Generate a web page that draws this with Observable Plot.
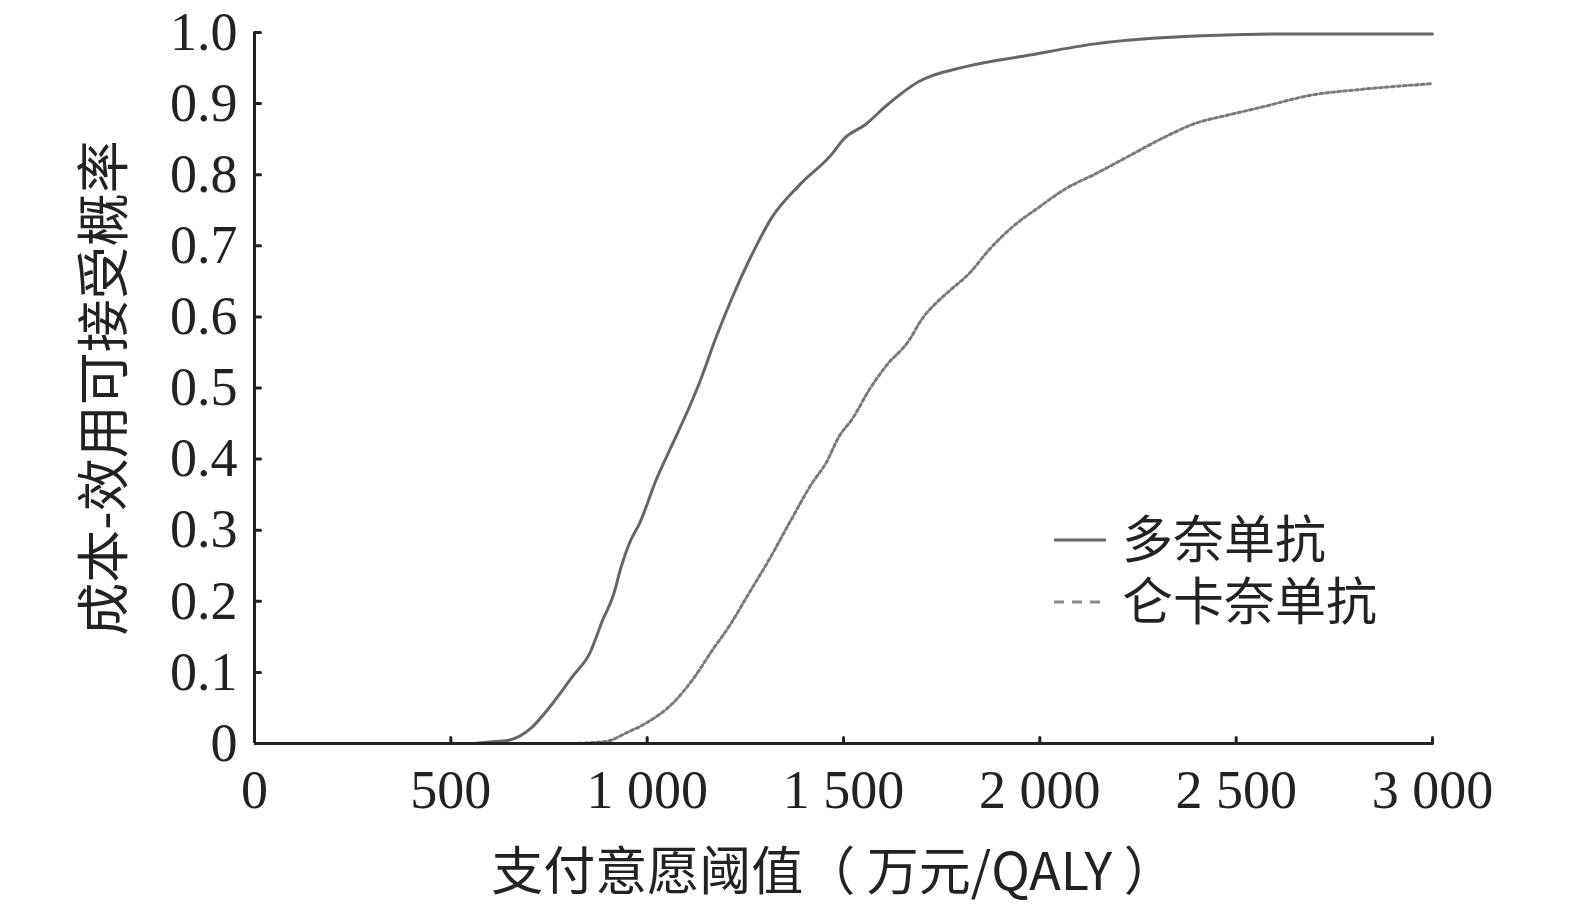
<!DOCTYPE html>
<html><head><meta charset="utf-8">
<script src="https://cdn.jsdelivr.net/npm/d3@7"></script>
<script src="https://cdn.jsdelivr.net/npm/@observablehq/plot@0.6"></script>
<style>
body{margin:0;background:#fff;}
#wrap{position:relative;width:1575px;height:911px;}
#legend{position:absolute;left:0;top:0;pointer-events:none;}
</style></head><body><div id="wrap"></div>
<script>
const xTicks = [0, 500, 1000, 1500, 2000, 2500, 3000];
const yTicks = [0, 0.1, 0.2, 0.3, 0.4, 0.5, 0.6, 0.7, 0.8, 0.9, 1.0];
const yTickLabels = ["0", "0.1", "0.2", "0.3", "0.4", "0.5", "0.6", "0.7", "0.8", "0.9", "1.0"];
const xTitle = "支付意愿阈值（ 万元/QALY ）";
const yTitle = "成本-效用可接受概率";
const seriesNames = ["多奈单抗", "仑卡奈单抗"];

// 多奈单抗
const donX = [560, 600, 650, 705, 760, 811, 854, 887, 913, 934, 955, 981, 1023, 1066, 1108, 1133, 1176, 1218, 1260, 1319, 1387, 1472, 1500, 1557, 1607, 1692, 1811, 1971, 2141, 2395, 2649, 3000];
const donY = [0, 0.002, 0.005, 0.022, 0.057, 0.095, 0.127, 0.174, 0.207, 0.249, 0.282, 0.31, 0.371, 0.423, 0.474, 0.507, 0.572, 0.629, 0.68, 0.741, 0.785, 0.83, 0.85, 0.871, 0.896, 0.931, 0.952, 0.968, 0.984, 0.995, 0.998, 0.998];
// 仑卡奈单抗
const lecX = [811, 896, 947, 998, 1066, 1116, 1167, 1209, 1260, 1311, 1362, 1421, 1455, 1489, 1523, 1565, 1607, 1667, 1701, 1735, 1777, 1820, 1870, 1929, 1997, 2065, 2141, 2226, 2311, 2395, 2480, 2565, 2692, 2819, 3000];
const lecY = [0, 0.003, 0.015, 0.029, 0.057, 0.09, 0.132, 0.165, 0.212, 0.259, 0.31, 0.367, 0.394, 0.432, 0.457, 0.497, 0.53, 0.567, 0.598, 0.619, 0.64, 0.661, 0.694, 0.726, 0.754, 0.78, 0.801, 0.826, 0.851, 0.872, 0.884, 0.895, 0.912, 0.92, 0.928];

const donData = donX.map((x, i) => ({x, y: donY[i]}));
const lecData = lecX.map((x, i) => ({x, y: lecY[i]}));

const tickShape = {draw(context, l) { context.moveTo(0, 0); context.lineTo(0, -l); }};
const fmtX = d => d3.format(",")(d).replace(/,/g, " ");
const fmtY = d => yTickLabels[yTicks.indexOf(d)] ?? String(d);
const serif = "'Liberation Serif', 'Times New Roman', serif";
const cjk = "'Noto Sans CJK SC', sans-serif";

const chart = Plot.plot({
  width: 1575,
  height: 911,
  marginLeft: 254,
  marginRight: 143,
  marginTop: 32,
  marginBottom: 168,
  style: {fontFamily: serif, fontSize: "54px", color: "#222", background: "#fff"},
  x: {domain: [0, 3000]},
  y: {domain: [0, 1]},
  marks: [
    Plot.axisX({ticks: xTicks, tickSize: 0, tickPadding: 26, tickFormat: fmtX, label: null, fontSize: 54, fill: "#222"}),
    Plot.axisY({ticks: yTicks, tickSize: 0, tickPadding: 17, tickFormat: fmtY, label: null, fontSize: 54, fill: "#222"}),
    Plot.vector(xTicks.filter(d => d > 0), {x: d => d, frameAnchor: "bottom", length: 6, rotate: 0, anchor: "start", shape: tickShape, stroke: "#222", strokeWidth: 3}),
    Plot.vector(yTicks.filter(d => d > 0), {y: d => d, frameAnchor: "left", length: 6, rotate: 90, anchor: "start", shape: tickShape, stroke: "#222", strokeWidth: 3}),
    Plot.line(lecData, {x: "x", y: "y", stroke: "#7a7a7a", strokeWidth: 3, strokeDasharray: "3,3", curve: "monotone-x"}),
    Plot.line(donData, {x: "x", y: "y", stroke: "#666", strokeWidth: 3, curve: "monotone-x"}),
    Plot.ruleY([0], {stroke: "#222", strokeWidth: 3}),
    Plot.ruleX([0], {stroke: "#222", strokeWidth: 3}),
    Plot.text([xTitle], {text: d => d, frameAnchor: "bottom", textAnchor: "middle", lineAnchor: "middle", dx: -10, dy: 130, fontFamily: cjk, fontSize: 52, fill: "#222"}),
    Plot.text([yTitle], {text: d => d, frameAnchor: "left", textAnchor: "middle", lineAnchor: "middle", dx: -148, rotate: -90, fontFamily: cjk, fontSize: 53, fill: "#222"})
  ]
});
const wrap = document.getElementById("wrap");
wrap.appendChild(chart);

// legend overlay
const legendStyles = [
  {stroke: "#666", dash: null},
  {stroke: "#888", dash: "10,8"}
];
const lg = d3.select(wrap).append("svg").attr("id", "legend").attr("width", 1575).attr("height", 911);
seriesNames.forEach((name, i) => {
  const cy = 540 + i * 62;
  const ln = lg.append("line").attr("x1", 1054).attr("x2", 1106).attr("y1", cy).attr("y2", cy)
    .attr("stroke", legendStyles[i].stroke).attr("stroke-width", 3);
  if (legendStyles[i].dash) ln.attr("stroke-dasharray", legendStyles[i].dash);
  lg.append("text").attr("x", 1122).attr("y", cy).attr("dy", "0.36em")
    .attr("font-family", "Noto Sans CJK SC, sans-serif").attr("font-size", 51).attr("fill", "#222")
    .text(name);
});
</script>
</body></html>
